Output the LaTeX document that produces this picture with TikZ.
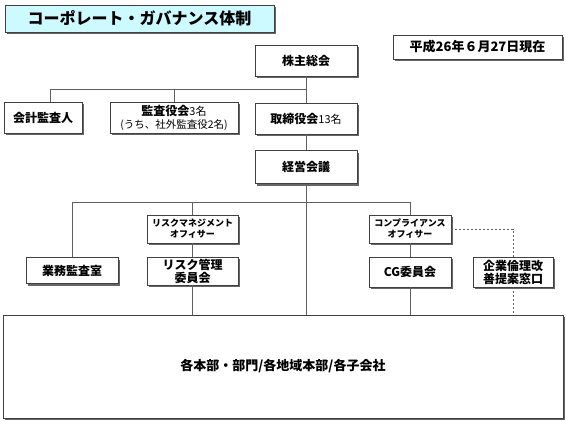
\documentclass[tikz,border=0pt]{standalone}
\usepackage{fontspec}
\setmainfont{Noto Sans CJK JP}
\usetikzlibrary{shadows}
\definecolor{titlecyan}{HTML}{CCFAFF}
\definecolor{boxline}{HTML}{404040}
\definecolor{connline}{HTML}{606060}
\tikzset{
  orgbox/.style={draw=boxline, line width=0.8pt, fill=white, inner sep=0pt, align=center,
    font=\bfseries\fontsize{12}{14}\selectfont,
    general shadow={fill=black!60, shadow xshift=2pt, shadow yshift=-2pt}},
  conn/.style={draw=connline, line width=0.8pt},
  dconn/.style={conn, dash pattern=on 2pt off 2pt},
  small/.style={font=\bfseries\fontsize{9}{11}\selectfont},
  thin/.style={font=\bfseries\fontsize{12}{13}\selectfont}
}
\begin{document}
\begin{tikzpicture}[x=1pt,y=-1pt]
\fill[white] (0,0) rectangle (566,421);
\useasboundingbox (0,0) rectangle (566,421);

\node[orgbox, fill=titlecyan, minimum width=269pt, minimum height=27pt,
  font=\bfseries\fontsize{16}{18}\selectfont] (title) at (139.5,18.5) {コーポレート・ガバナンス体制};
\node[orgbox, minimum width=169pt, minimum height=24pt,
  font=\bfseries\fontsize{13}{15}\selectfont] (date) at (477.5,47) {平成26年６月27日現在};

\node[orgbox, minimum width=102pt, minimum height=31pt] (kabu) at (306,60.5) {株主総会};
\node[orgbox, minimum width=102pt, minimum height=31pt] (tori) at (306,118.5) {取締役会{\mdseries\fontsize{11}{13}\selectfont 13名}};
\node[orgbox, minimum width=102pt, minimum height=33pt] (keiei) at (306,167) {経営会議};
\node[orgbox, minimum width=78pt, minimum height=31pt] (kaikei) at (43,117.5) {会計監査人};
\node[orgbox, minimum width=128pt, minimum height=31pt, font=\bfseries\fontsize{12}{13}\selectfont] (kansa) at (174,117.5)
  {監査役会{\mdseries\fontsize{11}{13}\selectfont 3名}\\{\mdseries\fontsize{10.5}{12}\selectfont (うち、社外監査役2名)}};

\node[orgbox, minimum width=92pt, minimum height=26pt] (gyomu) at (72,270.5) {業務監査室};
\node[orgbox, small, minimum width=91pt, minimum height=28pt] (riskoff) at (192.5,229) {リスクマネジメント\\オフィサー};
\node[orgbox, thin, minimum width=91pt, minimum height=28pt] (riskcom) at (192.5,271) {リスク管理\\委員会};
\node[orgbox, small, minimum width=82pt, minimum height=28pt] (compoff) at (410,229) {コンプライアンス\\オフィサー};
\node[orgbox, minimum width=82pt, minimum height=30pt] (cg) at (410,272) {CG委員会};
\node[orgbox, thin, minimum width=80pt, minimum height=30pt] (rinri) at (513,272) {企業倫理改\\善提案窓口};
\node[orgbox, minimum width=560pt, minimum height=103pt, font=\bfseries\fontsize{13}{15}\selectfont] (big) at (283,366.5) {各本部・部門/各地域本部/各子会社};

\coordinate (j1) at (306,89);
\coordinate (j2) at (306,202);

\draw[conn] (kabu) -- (tori);
\draw[conn] ([xshift=7pt]kaikei.north) |- (j1);
\draw[conn] (kansa.north) -- (kansa.north |- j1);
\draw[conn] (tori) -- (keiei);
\draw[conn] (keiei) -- (keiei |- big.north);
\draw[conn] (gyomu.north) |- (compoff.north |- j2) -- (compoff.north);
\draw[conn] (riskoff.north |- j2) -- (riskoff.north);
\draw[conn] (riskoff) -- (riskcom);
\draw[conn] (riskcom) -- (riskcom |- big.north);
\draw[conn] (compoff) -- (cg);
\draw[conn] (cg) -- (cg |- big.north);
\draw[dconn] (compoff.east) -| (rinri.north);
\draw[dconn] (rinri) -- (rinri |- big.north);
\end{tikzpicture}
\end{document}
